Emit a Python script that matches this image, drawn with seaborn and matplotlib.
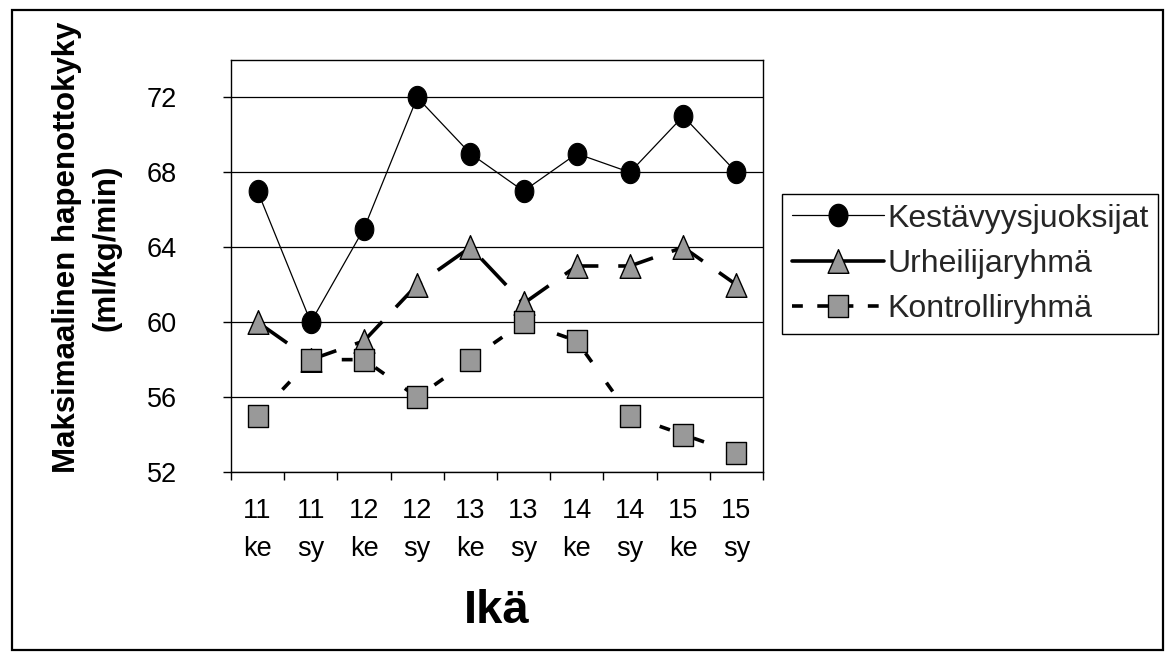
import numpy as np
import matplotlib
matplotlib.use("Agg")
import matplotlib.pyplot as plt
from matplotlib.path import Path
from matplotlib.lines import Line2D
from matplotlib.patches import Rectangle
import seaborn as sns

# --- data -------------------------------------------------------------
ages = ["11", "11", "12", "12", "13", "13", "14", "14", "15", "15"]
terms = ["ke", "sy", "ke", "sy", "ke", "sy", "ke", "sy", "ke", "sy"]
kestavyysjuoksijat = [67, 60, 65, 72, 69, 67, 69, 68, 71, 68]
urheilijaryhma = [60, 58, 59, 62, 64, 61, 63, 63, 64, 62]
kontrolliryhma = [55, 58, 58, 56, 58, 60, 59, 55, 54, 53]
series_names = ["Kestävyysjuoksijat", "Urheilijaryhmä", "Kontrolliryhmä"]
y_ticks = [52, 56, 60, 64, 68, 72]

sns.set_style("white")
plt.rcParams["font.family"] = ["Liberation Sans", "DejaVu Sans"]

# slightly tall marker shapes
t = np.linspace(0, 2 * np.pi, 64)
circle_m = Path(np.c_[0.42 * np.cos(t), 0.5 * np.sin(t)], closed=True)
tri_m = Path([(-0.44, -0.5), (0.44, -0.5), (0.0, 0.5), (-0.44, -0.5)], closed=True)
sq_m = Path([(-0.45, -0.5), (0.45, -0.5), (0.45, 0.5), (-0.45, 0.5), (-0.45, -0.5)], closed=True)

GRAY = "#999999"
W, H = 1175, 662
fig = plt.figure(figsize=(W / 100, H / 100), dpi=100)
ax = fig.add_axes([231 / W, 1 - 472 / H, (763 - 231) / W, (472 - 60) / H])

x = np.arange(len(ages))
sns.lineplot(x=x, y=kestavyysjuoksijat, ax=ax, color="black", linewidth=0.9,
             marker=circle_m, markersize=16, markerfacecolor="black",
             markeredgecolor="black", markeredgewidth=0.8, legend=False, zorder=3)
sns.lineplot(x=x, y=urheilijaryhma, ax=ax, color="black", linewidth=2.6,
             linestyle=(0, (10, 5.5)), marker=tri_m, markersize=17,
             markerfacecolor=GRAY, markeredgecolor="black", markeredgewidth=1.0,
             legend=False, zorder=4)
sns.lineplot(x=x, y=kontrolliryhma, ax=ax, color="black", linewidth=2.6,
             linestyle=(0, (3, 7)), marker=sq_m, markersize=16,
             markerfacecolor=GRAY, markeredgecolor="black", markeredgewidth=1.0,
             legend=False, zorder=5)

# axes
ax.set_xlim(-0.5, len(ages) - 0.5)
ax.set_ylim(52, 74)
ax.set_yticks(y_ticks)
ax.set_yticklabels([str(v) for v in y_ticks])
ax.yaxis.grid(True, color="black", linewidth=0.9)
ax.xaxis.grid(False)
ax.set_axisbelow(True)

ax.set_xticks(np.arange(-0.5, len(ages), 1.0))
ax.set_xticklabels([])
ax.set_xticks(x, minor=True)
ax.set_xticklabels([f"{a}\n{s}" for a, s in zip(ages, terms)], minor=True,
                   linespacing=1.6)
ax.tick_params(axis="x", which="major", direction="out", length=6, width=1.0,
               color="black", bottom=True)
ax.tick_params(axis="x", which="minor", length=0, pad=19, labelsize=19.5,
               labelcolor="black")
ax.tick_params(axis="y", direction="out", length=6, width=1.0, color="black",
               left=True, pad=33, labelsize=19.5, labelcolor="black")

for sp in ax.spines.values():
    sp.set_color("black")
    sp.set_linewidth(1.0)
    sp.set_visible(True)

ax.set_ylabel("Maksimaalinen hapenottokyky\n(ml/kg/min)", fontsize=22.5,
              fontweight="bold", linespacing=1.45, color="black")
ax.yaxis.set_label_coords(-0.205, 0.545)
ax.set_xlabel("Ikä", fontsize=34, fontweight="bold", color="black")
ax.xaxis.set_label_coords(0.5, -0.285)

# legend
handles = [
    Line2D([], [], color="black", linewidth=0.9, marker=circle_m, markersize=16,
           markerfacecolor="black", markeredgecolor="black"),
    Line2D([], [], color="black", linewidth=2.6, marker=tri_m, markersize=17,
           markerfacecolor=GRAY, markeredgecolor="black"),
    Line2D([], [], color="black", linewidth=2.6, linestyle=(0, (3, 4)),
           marker=sq_m, markersize=16, markerfacecolor=GRAY, markeredgecolor="black"),
]
leg = fig.legend(handles, series_names, loc="upper left",
                 bbox_to_anchor=(782 / W, 1 - 194 / H), borderaxespad=0,
                 frameon=True, fancybox=False, edgecolor="black", framealpha=1,
                 fontsize=23, handlelength=2.9, handletextpad=0.1,
                 borderpad=0.3, labelspacing=0.48)
leg.get_frame().set_linewidth(1.0)

# outer chart border
fig.patches.append(Rectangle((12 / W, 12 / H), (1163 - 12) / W, (652 - 12) / H,
                             transform=fig.transFigure, fill=False,
                             edgecolor="black", linewidth=1.6))

fig.savefig("out.png", dpi=100, facecolor="white")
